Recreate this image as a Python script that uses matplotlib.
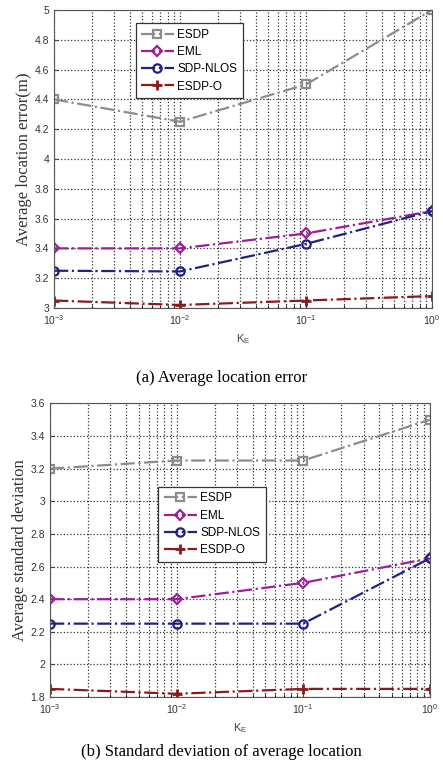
import matplotlib
matplotlib.use("Agg")
import matplotlib.pyplot as plt
from matplotlib.ticker import FuncFormatter, LogLocator, NullFormatter

k_e = [1e-3, 1e-2, 1e-1, 1e0]
series_names = ["ESDP", "EML", "SDP-NLOS", "ESDP-O"]

err_esdp = [4.40, 4.25, 4.50, 5.00]
err_eml = [3.40, 3.40, 3.50, 3.65]
err_sdp_nlos = [3.25, 3.245, 3.43, 3.65]
err_esdp_o = [3.05, 3.02, 3.05, 3.08]

std_esdp = [3.20, 3.25, 3.25, 3.50]
std_eml = [2.40, 2.40, 2.50, 2.65]
std_sdp_nlos = [2.25, 2.25, 2.25, 2.65]
std_esdp_o = [1.85, 1.82, 1.85, 1.85]

colors = ["#8c8c8c", "#9b1f9b", "#1f237f", "#8b1a1a"]
markers = ["s", "D", "o", "P"]

plt.rcParams['font.family'] = ['Liberation Sans', 'DejaVu Sans']
plt.rcParams['mathtext.fontset'] = 'custom'
plt.rcParams['mathtext.rm'] = 'Liberation Sans'
plt.rcParams['mathtext.it'] = 'Liberation Sans'

fig = plt.figure(figsize=(4.43, 7.68), dpi=100)

def draw(ax, data, ylim, yticks, ylabel, legend_bbox):
    for vals, name, c, m in zip(data, series_names, colors, markers):
        ms = 6 if m != "D" else 5
        if m == "P":
            ax.plot(k_e, vals, linestyle='-.', color=c, lw=1.6, marker='+', ms=7, mew=2, label=name)
        else:
            ax.plot(k_e, vals, linestyle='-.', color=c, lw=1.6, marker=m, ms=ms,
                    mfc='none', mew=1.6, label=name)
    ax.set_xscale('log')
    ax.set_xlim(1e-3, 1)
    ax.set_ylim(*ylim)
    ax.set_yticks(yticks)
    ax.yaxis.set_major_formatter(FuncFormatter(lambda v, p: "%g" % round(v, 2)))
    ax.xaxis.set_major_locator(LogLocator(base=10, numticks=10))
    ax.xaxis.set_minor_locator(LogLocator(base=10, subs=range(2, 10), numticks=20))
    ax.xaxis.set_minor_formatter(NullFormatter())
    ax.grid(True, which='major', axis='both', color='#333333', linestyle=':', lw=0.9)
    ax.grid(True, which='minor', axis='x', color='#333333', linestyle=':', lw=0.9)
    ax.tick_params(axis='both', which='major', labelsize=7.5, direction='in', length=3, colors='#444444', labelcolor='#333333')
    ax.tick_params(axis='x', which='minor', direction='in', length=2)
    for s in ax.spines.values():
        s.set_color('#555555')
        s.set_linewidth(0.8)
    ax.set_xlabel(r"K$_E$", fontsize=8, color='#444444', labelpad=4)
    ax.set_ylabel(ylabel, family=['Liberation Serif'], fontsize=12, color='#333333', labelpad=2)
    leg = ax.legend(loc='upper left', bbox_to_anchor=legend_bbox, fontsize=8.5, frameon=True,
                    fancybox=False, edgecolor='#333333', framealpha=1, handlelength=2.8,
                    borderpad=0.45, labelspacing=0.45, handletextpad=0.3)
    leg.get_frame().set_linewidth(0.9)

ax1 = fig.add_axes([0.122, 0.599, 0.853, 0.388])
draw(ax1, [err_esdp, err_eml, err_sdp_nlos, err_esdp_o], (3, 5),
     [3, 3.2, 3.4, 3.6, 3.8, 4, 4.2, 4.4, 4.6, 4.8, 5],
     "Average location error(m)", (0.2, 0.975))

ax2 = fig.add_axes([0.113, 0.0924, 0.857, 0.3823])
draw(ax2, [std_esdp, std_eml, std_sdp_nlos, std_esdp_o], (1.8, 3.6),
     [1.8, 2, 2.2, 2.4, 2.6, 2.8, 3, 3.2, 3.4, 3.6],
     "Average standard deviation", (0.27, 0.735))

fig.text(0.5, 1 - 378 / 768, "(a) Average location error", ha='center', va='center',
         family=['Liberation Serif'], fontsize=12)
fig.text(0.5, 1 - 752 / 768, "(b) Standard deviation of average location", ha='center', va='center',
         family=['Liberation Serif'], fontsize=12)

fig.savefig("out.png", dpi=100)
